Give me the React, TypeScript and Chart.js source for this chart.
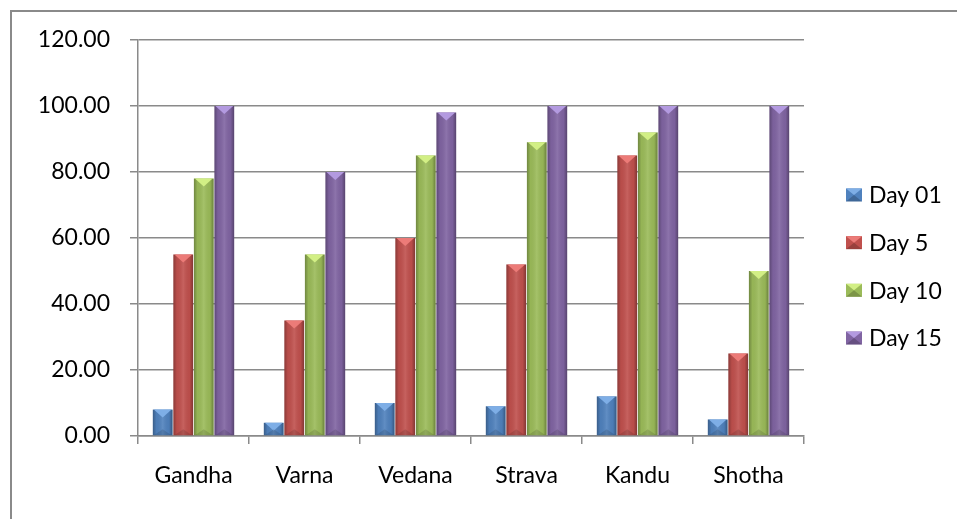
import { useEffect, useRef } from "react";
import { Chart, registerables } from "chart.js";

Chart.register(...registerables);

const categories = ["Gandha", "Varna", "Vedana", "Strava", "Kandu", "Shotha"];
const seriesNames = ["Day 01", "Day 5", "Day 10", "Day 15"];
const day01 = [8, 4, 10, 9, 12, 5];
const day5 = [55, 35, 60, 52, 85, 25];
const day10 = [78, 55, 85, 89, 92, 50];
const day15 = [100, 80, 98, 100, 100, 100];
const yTicks = [0, 20, 40, 60, 80, 100, 120];

const baseColors = ["#4F81BD", "#C0504D", "#9BBB59", "#8064A2"];
const lightColors = ["#7eaee6", "#ec7b78", "#d2ef85", "#b39ae0"];
const FONT = "Lato, 'Noto Sans', sans-serif";
const FONT_SIZE = 23;
const GRID = "#8a8a8a";

const framePlugin = {
  id: "frame",
  beforeDraw(chart: any) {
    const ctx = chart.ctx;
    ctx.save();
    ctx.fillStyle = "#ffffff";
    ctx.fillRect(0, 0, chart.width, chart.height);
    ctx.strokeStyle = GRID;
    ctx.lineWidth = 2;
    ctx.strokeRect(11, 11, chart.width + 50, chart.height + 50);
    ctx.restore();
  },
};

const bevelPlugin = {
  id: "bevel",
  afterDatasetsDraw(chart: any) {
    const ctx = chart.ctx;
    ctx.save();
    chart.data.datasets.forEach((_ds: any, di: number) => {
      const meta = chart.getDatasetMeta(di);
      meta.data.forEach((bar: any) => {
        const { x, y, base, width } = bar.getProps(["x", "y", "base", "width"], true);
        const left = x - width / 2;
        const right = x + width / 2;
        const g = ctx.createLinearGradient(left, 0, right, 0);
        g.addColorStop(0, "rgba(0,0,0,0.28)");
        g.addColorStop(0.18, "rgba(0,0,0,0.04)");
        g.addColorStop(0.5, "rgba(255,255,255,0.10)");
        g.addColorStop(0.82, "rgba(0,0,0,0.04)");
        g.addColorStop(1, "rgba(0,0,0,0.32)");
        ctx.fillStyle = g;
        ctx.fillRect(left, y, width, base - y);
        const h = Math.min(width * 0.4, base - y);
        ctx.fillStyle = lightColors[di];
        ctx.beginPath();
        ctx.moveTo(left + 1, y);
        ctx.lineTo(right - 1, y);
        ctx.lineTo(x, y + h);
        ctx.closePath();
        ctx.fill();
        ctx.fillStyle = "rgba(0,0,0,0.12)";
        ctx.beginPath();
        ctx.moveTo(left + 1, base);
        ctx.lineTo(right - 1, base);
        ctx.lineTo(x, base - Math.min(width * 0.3, base - y));
        ctx.closePath();
        ctx.fill();
      });
    });
    ctx.restore();
  },
};

const legendPlugin = {
  id: "sideLegend",
  afterDraw(chart: any) {
    const ctx = chart.ctx;
    const ca = chart.chartArea;
    const n = chart.data.datasets.length;
    const step = 47.7;
    const center = chart.height / 2 + 7;
    const boxX = ca.right + 42;
    const boxW = 16;
    const boxH = 13;
    ctx.save();
    ctx.font = `${FONT_SIZE}px ${FONT}`;
    ctx.textBaseline = "middle";
    ctx.textAlign = "left";
    chart.data.datasets.forEach((ds: any, i: number) => {
      const cy = center + (i - (n - 1) / 2) * step;
      const top = cy - boxH / 2;
      ctx.fillStyle = baseColors[i];
      ctx.fillRect(boxX, top, boxW, boxH);
      ctx.fillStyle = lightColors[i];
      ctx.beginPath();
      ctx.moveTo(boxX, top);
      ctx.lineTo(boxX + boxW, top);
      ctx.lineTo(boxX + boxW / 2, cy);
      ctx.closePath();
      ctx.fill();
      ctx.fillStyle = "rgba(0,0,0,0.2)";
      ctx.beginPath();
      ctx.moveTo(boxX, top + boxH);
      ctx.lineTo(boxX + boxW, top + boxH);
      ctx.lineTo(boxX + boxW / 2, cy);
      ctx.closePath();
      ctx.fill();
      ctx.fillStyle = "#000000";
      ctx.fillText(ds.label, boxX + boxW + 7, cy + 1);
    });
    ctx.restore();
  },
};

export default function App() {
  const ref = useRef<HTMLCanvasElement | null>(null);

  useEffect(() => {
    if (!ref.current) return;
    const seriesValues = [day01, day5, day10, day15];
    const chart = new Chart(ref.current, {
      type: "bar",
      data: {
        labels: categories,
        datasets: seriesNames.map((name, i) => ({
          label: name,
          data: seriesValues[i],
          backgroundColor: baseColors[i],
          borderWidth: 0,
          categoryPercentage: 0.74,
          barPercentage: 0.96,
        })),
      },
      options: {
        responsive: false,
        animation: false,
        layout: { padding: { top: 40, right: 153, bottom: 0, left: 0 } },
        plugins: {
          legend: { display: false },
          tooltip: { enabled: false },
          title: { display: false },
        },
        scales: {
          x: {
            offset: true,
            grid: {
              offset: true,
              drawOnChartArea: false,
              drawTicks: true,
              tickLength: 8,
              color: GRID,
              lineWidth: 1.5,
            },
            border: { display: true, color: GRID, width: 1.5 },
            ticks: {
              color: "#000000",
              font: { family: FONT, size: FONT_SIZE },
              padding: 18,
              maxRotation: 0,
            },
            afterFit: (s: any) => {
              s.height = 83;
            },
          },
          y: {
            min: 0,
            max: 120,
            afterBuildTicks: (s: any) => {
              s.ticks = yTicks.map((v) => ({ value: v }));
            },
            grid: {
              color: GRID,
              lineWidth: 1.5,
              drawTicks: true,
              tickLength: 8,
            },
            border: { display: true, color: GRID, width: 1.5 },
            ticks: {
              color: "#000000",
              font: { family: FONT, size: FONT_SIZE },
              padding: 20,
              callback: (v: any) => Number(v).toFixed(2),
            },
            afterFit: (s: any) => {
              s.width = 138;
            },
          },
        },
      },
      plugins: [framePlugin, bevelPlugin, legendPlugin],
    });
    return () => chart.destroy();
  }, []);

  return (
    <div style={{ position: "fixed", left: 0, top: 0, width: 957, height: 519, overflow: "hidden" }}>
      <canvas ref={ref} width={957} height={519} style={{ display: "block" }} />
    </div>
  );
}
